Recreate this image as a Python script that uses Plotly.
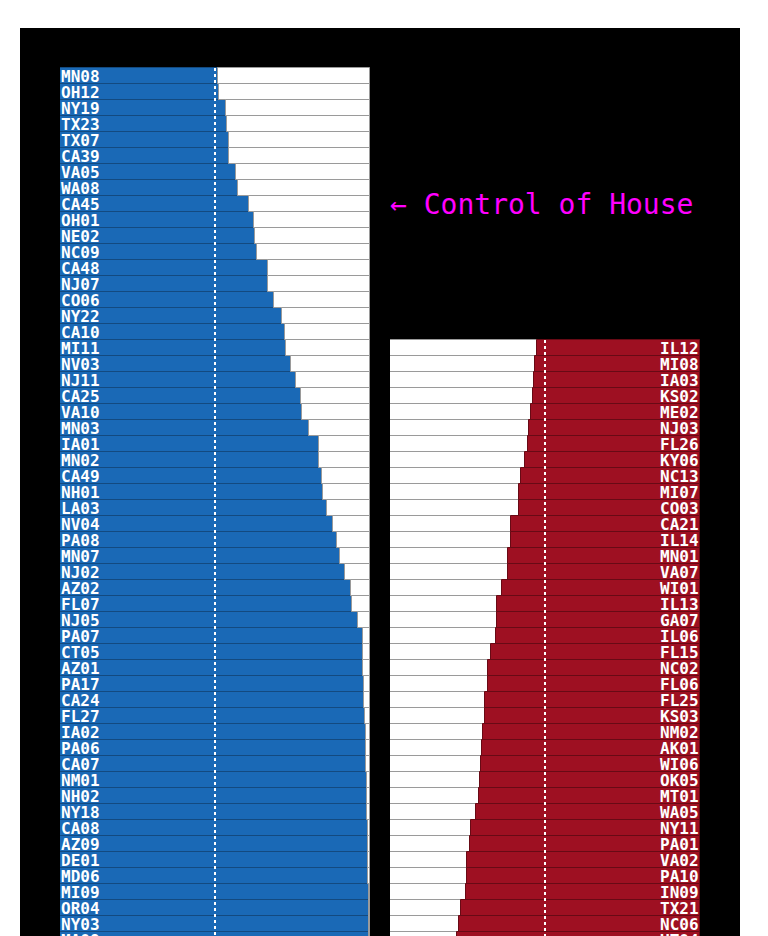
import plotly.graph_objects as go

# Left column: seats leaning Democratic, share of the forecast going blue
dem_seats = [
    "MN08", "OH12", "NY19", "TX23", "TX07", "CA39", "VA05", "WA08", "CA45", "OH01",
    "NE02", "NC09", "CA48", "NJ07", "CO06", "NY22", "CA10", "MI11", "NV03", "NJ11",
    "CA25", "VA10", "MN03", "IA01", "MN02", "CA49", "NH01", "LA03", "NV04", "PA08",
    "MN07", "NJ02", "AZ02", "FL07", "NJ05", "PA07", "CT05", "AZ01", "PA17", "CA24",
    "FL27", "IA02", "PA06", "CA07", "NM01", "NH02", "NY18", "CA08", "AZ09", "DE01",
    "MD06", "MI09", "OR04", "NY03", "MA08",
]
dem_share = [
    0.511, 0.513, 0.535, 0.540, 0.544, 0.546, 0.568, 0.574, 0.611, 0.626,
    0.629, 0.635, 0.670, 0.670, 0.689, 0.715, 0.725, 0.730, 0.744, 0.762,
    0.778, 0.781, 0.802, 0.835, 0.835, 0.844, 0.849, 0.860, 0.880, 0.895,
    0.903, 0.918, 0.938, 0.942, 0.961, 0.976, 0.977, 0.978, 0.981, 0.982,
    0.984, 0.987, 0.988, 0.988, 0.989, 0.990, 0.991, 0.993, 0.994, 0.995,
    0.995, 0.996, 0.996, 0.997, 0.997,
]

# Right column: seats leaning Republican, share of the forecast going red
rep_seats = [
    "IL12", "MI08", "IA03", "KS02", "ME02", "NJ03", "FL26", "KY06", "NC13", "MI07",
    "CO03", "CA21", "IL14", "MN01", "VA07", "WI01", "IL13", "GA07", "IL06", "FL15",
    "NC02", "FL06", "FL25", "KS03", "NM02", "AK01", "WI06", "OK05", "MT01", "WA05",
    "NY11", "PA01", "VA02", "PA10", "IN09", "TX21", "NC06", "UT04",
]
rep_share = [
    0.525, 0.532, 0.535, 0.538, 0.546, 0.553, 0.554, 0.565, 0.577, 0.583,
    0.585, 0.609, 0.611, 0.618, 0.618, 0.640, 0.654, 0.655, 0.658, 0.675,
    0.683, 0.685, 0.694, 0.695, 0.700, 0.704, 0.705, 0.709, 0.712, 0.723,
    0.740, 0.741, 0.751, 0.753, 0.756, 0.772, 0.777, 0.783,
]

# right column starts this many rows below the left one
RIGHT_START = 17
# the left row next to the "control of house" note
CONTROL_ROW = 8

# page puts the plot 8px in from the corner, so everything below is in figure px
W, H = 768, 936
ROW_TOP, ROW_H = 60, 16

BLUE, BLUE_EDGE = "#1a69b6", "#134a80"
RED, RED_EDGE = "#9e1022", "#680a15"
GRAY = "#9a9a9a"
MONO = "DejaVu Sans Mono"

left_rows = list(range(len(dem_seats)))
right_rows = [RIGHT_START + i for i in range(len(rep_seats))]

fig = go.Figure()

# left: blue share from the left, white remainder
fig.add_trace(go.Bar(
    x=dem_share, y=left_rows, base=0, orientation="h", width=1,
    marker=dict(color=BLUE, line=dict(color=BLUE_EDGE, width=1)),
    xaxis="x", yaxis="y", hoverinfo="skip",
))
fig.add_trace(go.Bar(
    x=[1 - v for v in dem_share], y=left_rows, base=dem_share, orientation="h", width=1,
    marker=dict(color="white", line=dict(color=GRAY, width=1)),
    xaxis="x", yaxis="y", hoverinfo="skip",
))

# right: white remainder from the left, red share on the right
fig.add_trace(go.Bar(
    x=[1 - v for v in rep_share], y=right_rows, base=0, orientation="h", width=1,
    marker=dict(color="white", line=dict(color=GRAY, width=1)),
    xaxis="x2", yaxis="y", hoverinfo="skip",
))
fig.add_trace(go.Bar(
    x=rep_share, y=right_rows, base=[1 - v for v in rep_share], orientation="h", width=1,
    marker=dict(color=RED, line=dict(color=RED_EDGE, width=1)),
    xaxis="x2", yaxis="y", hoverinfo="skip",
))

# seat labels
annotations = []
for seat, row in zip(dem_seats, left_rows):
    annotations.append(dict(
        x=0, y=row, xref="x", yref="y", text=f"<b>{seat}</b>", showarrow=False,
        xanchor="left", yanchor="middle", borderpad=0,
        font=dict(family=MONO, size=16, color="white"),
    ))
for seat, row in zip(rep_seats, right_rows):
    annotations.append(dict(
        x=1, y=row, xref="x2", yref="y", text=f"<b>{seat}</b>", showarrow=False,
        xanchor="right", yanchor="middle", borderpad=0,
        font=dict(family=MONO, size=16, color="white"),
    ))
annotations.append(dict(
    x=0, y=CONTROL_ROW, xref="x2", yref="y", text="← Control of House", showarrow=False,
    xanchor="left", yanchor="middle", xshift=-2,
    font=dict(family=MONO, size=28, color="#ff00ff"),
))

shapes = [
    # black board behind everything
    dict(type="rect", xref="paper", yref="paper", x0=12 / W, x1=732 / W, y0=0, y1=1 - 20 / H,
         fillcolor="black", line=dict(width=0), layer="below"),
    # 50% markers
    dict(type="line", xref="x", yref="y", x0=0.5, x1=0.5, y0=left_rows[0] - 0.5, y1=left_rows[-1] + 0.5,
         line=dict(color="white", width=2, dash="dot")),
    dict(type="line", xref="x2", yref="y", x0=0.5, x1=0.5, y0=right_rows[0] - 0.5, y1=right_rows[-1] + 0.5,
         line=dict(color="white", width=2, dash="dot")),
]

y_top = (0 - ROW_TOP) / ROW_H - 0.5
y_bottom = (H - ROW_TOP) / ROW_H - 0.5

fig.update_layout(
    width=W, height=H,
    margin=dict(l=0, r=0, t=0, b=0),
    paper_bgcolor="white",
    plot_bgcolor="rgba(0,0,0,0)",
    barmode="overlay",
    bargap=0,
    showlegend=False,
    xaxis=dict(domain=[52 / W, 362 / W], range=[0, 1], visible=False, fixedrange=True),
    xaxis2=dict(domain=[382 / W, 692 / W], range=[0, 1], visible=False, fixedrange=True),
    yaxis=dict(domain=[0, 1], range=[y_bottom, y_top], visible=False, fixedrange=True),
    annotations=annotations,
    shapes=shapes,
)

fig.write_html("out.html")
